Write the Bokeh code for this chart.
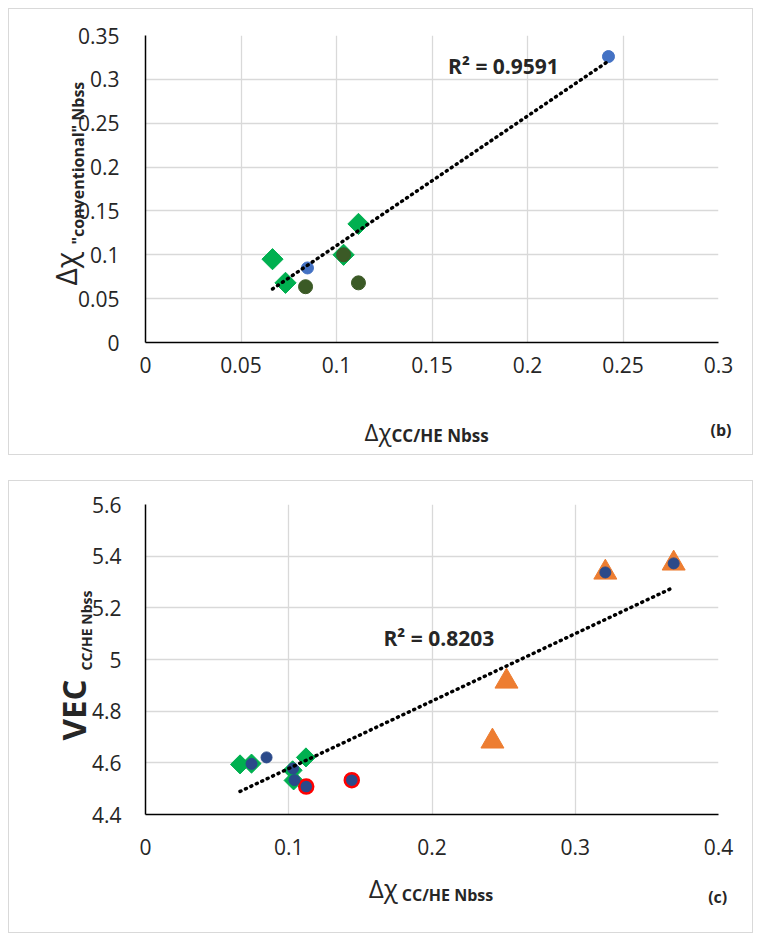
import numpy as np
from bokeh.plotting import figure
from bokeh.models import Range1d, FixedTicker, Label, Spacer
from bokeh.layouts import column
from bokeh.embed import file_html
from bokeh.resources import INLINE

# ---------------- chart (b) data ----------------
b_blue_x = [0.0848, 0.2424]
b_blue_y = [0.085, 0.326]
b_dkgreen_x = [0.0838, 0.1115, 0.1037]
b_dkgreen_y = [0.0636, 0.068, 0.100]
b_diamond_x = [0.0665, 0.0733, 0.1037, 0.1115]
b_diamond_y = [0.095, 0.068, 0.100, 0.1352]
b_trend_x = [0.0665, 0.2424]
b_trend_coef = [1.477, -0.0372]
b_r2 = "R² = 0.9591"
b_xticks = [0.0, 0.05, 0.1, 0.15, 0.2, 0.25, 0.3]
b_xlabels = ["0", "0.05", "0.1", "0.15", "0.2", "0.25", "0.3"]
b_yticks = [0.0, 0.05, 0.1, 0.15, 0.2, 0.25, 0.3, 0.35]
b_ylabels = ["0", "0.05", "0.1", "0.15", "0.2", "0.25", "0.3", "0.35"]

# ---------------- chart (c) data ----------------
c_navy_x = [0.074, 0.0845, 0.103, 0.104, 0.321, 0.3687]
c_navy_y = [4.596, 4.621, 4.578, 4.533, 5.337, 5.372]
c_red_x = [0.1122, 0.144]
c_red_y = [4.508, 4.533]
c_diamond_x = [0.066, 0.074, 0.1027, 0.1034, 0.112]
c_diamond_y = [4.594, 4.597, 4.571, 4.532, 4.621]
c_tri_x = [0.2422, 0.252, 0.321, 0.3687]
c_tri_y = [4.683, 4.915, 5.337, 5.372]
c_trend_x = [0.066, 0.3687]
c_trend_coef = [2.61, 4.317]
c_r2 = "R² = 0.8203"
c_xticks = [0.0, 0.1, 0.2, 0.3, 0.4]
c_xlabels = ["0", "0.1", "0.2", "0.3", "0.4"]
c_yticks = [4.4, 4.6, 4.8, 5.0, 5.2, 5.4, 5.6]
c_ylabels = ["4.4", "4.6", "4.8", "5", "5.2", "5.4", "5.6"]

FONT = "Open Sans"
GRID = "#D9D9D9"
TXT = "#262626"
W = 745


def make_fig(height, left, top, fw, fh, xr, yr, xticks, xlabels, yticks, ylabels,
             xstand, ystand):
    p = figure(width=W, height=height, x_range=Range1d(*xr), y_range=Range1d(*yr),
               output_backend="svg", toolbar_location=None,
               min_border_left=left, min_border_right=W - left - fw,
               min_border_top=top, min_border_bottom=height - top - fh)
    p.outline_line_color = None
    p.background_fill_color = "white"
    p.border_fill_color = "white"
    p.styles = {"border": "1px solid #D9D9D9"}
    for ax, ticks, labels, st in ((p.xaxis, xticks, xlabels, xstand),
                                  (p.yaxis, yticks, ylabels, ystand)):
        ax.ticker = FixedTicker(ticks=ticks)
        ax.major_label_overrides = {float(t): l for t, l in zip(ticks, labels)}
        ax.major_tick_in = 0
        ax.major_tick_out = 0
        ax.minor_tick_line_color = None
        ax.axis_line_color = "#000000"
        ax.axis_line_width = 1.5
        ax.major_label_text_font = FONT
        ax.major_label_text_font_size = "21px"
        ax.major_label_text_color = TXT
        ax.major_label_standoff = st
    p.xgrid.grid_line_color = GRID
    p.ygrid.grid_line_color = GRID
    p.xgrid.grid_line_width = 1.3
    p.ygrid.grid_line_width = 1.3
    return p


def to_data(px, py, fl, ft, fw, fh, xr, yr):
    # position in pixels (relative to the figure) -> data units of the frame scales
    x = xr[0] + (px - fl) / fw * (xr[1] - xr[0])
    y = yr[1] - (py - ft) / fh * (yr[1] - yr[0])
    return x, y


def add_text(p, geo, px, py, text, size, bold=False, angle=0.0, align="left",
             baseline="alphabetic", side=None):
    x, y = to_data(px, py, *geo)
    lab = Label(x=x, y=y, text=text, text_font=FONT,
                text_font_size=f"{size}px",
                text_font_style="bold" if bold else "normal",
                text_color=TXT, angle=angle, text_align=align,
                text_baseline=baseline)
    if side is None:
        p.add_layout(lab)
    else:
        p.add_layout(lab, side)


# page offsets of each figure (the layout gets an 8px margin)
OX, OY1 = 8, 8
OY2 = 482

# ---------------- figure (b) ----------------
b_geo = (136, 26, 573, 307, (0, 0.3), (0, 0.35))
p1 = make_fig(447, 136, 26, 573, 307, (0, 0.3), (0, 0.35),
              b_xticks, b_xlabels, b_yticks, b_ylabels, 14, 26)

p1.scatter(b_diamond_x, b_diamond_y, marker="square", size=15, angle=np.pi / 4,
           fill_color="#00B050", line_color="#00B050")
p1.scatter(b_dkgreen_x, b_dkgreen_y, marker="circle", size=14,
           fill_color="#3B5A26", line_color="#3B5A26")
p1.scatter(b_blue_x, b_blue_y, marker="circle", size=12,
           fill_color="#4472C4", line_color="#4472C4")
bt = np.array(b_trend_x)
p1.line(bt, b_trend_coef[0] * bt + b_trend_coef[1], line_color="black",
        line_width=3.5, line_dash="1 5", line_cap="round")

add_text(p1, b_geo, 502 - OX, 64 - OY1, b_r2, 21, bold=True, align="center",
         baseline="middle")
add_text(p1, b_geo, 363 - OX, 430 - OY1, "Δχ", 24, side="below")
add_text(p1, b_geo, 390 - OX, 434 - OY1, "CC/HE Nbss", 17, bold=True, side="below")
add_text(p1, b_geo, 730 - OX, 428 - OY1, "(b)", 16, bold=True, align="right",
         baseline="middle", side="above")
add_text(p1, b_geo, 64 - OX, 284 - OY1, "Δχ", 30, angle=np.pi / 2, side="left")
add_text(p1, b_geo, 76 - OX, 243 - OY1, "\"conventional\" Nbss", 16, bold=True,
         angle=np.pi / 2, side="right")

# ---------------- figure (c) ----------------
c_geo = (121, 23, 588, 310, (0, 0.4), (4.4, 5.6))
p2 = make_fig(453, 121, 23, 588, 310, (0, 0.4), (4.4, 5.6),
              c_xticks, c_xlabels, c_yticks, c_ylabels, 24, 24)

p2.scatter(c_diamond_x, c_diamond_y, marker="square", size=13.5, angle=np.pi / 4,
           fill_color="#00B050", line_color="#00B050")
p2.scatter(c_red_x, c_red_y, marker="circle", size=14,
           fill_color="#2B4A8A", line_color="#FF0000", line_width=2.5)
p2.scatter(c_tri_x, c_tri_y, marker="triangle", size=23,
           fill_color="#ED7D31", line_color="#ED7D31")
p2.scatter(c_navy_x, c_navy_y, marker="circle", size=11,
           fill_color="#2B4A8A", line_color="#2B4A8A")
ct = np.array(c_trend_x)
p2.line(ct, c_trend_coef[0] * ct + c_trend_coef[1], line_color="black",
        line_width=3.5, line_dash="1 5", line_cap="round")

add_text(p2, c_geo, 430 - OX, 638 - OY2, c_r2, 21, bold=True, align="center",
         baseline="middle")
add_text(p2, c_geo, 358 - OX, 888 - OY2, "Δχ", 26, side="below")
add_text(p2, c_geo, 392 - OX, 895 - OY2, "CC/HE Nbss", 16, bold=True, side="below")
add_text(p2, c_geo, 726 - OX, 897 - OY2, "(c)", 16, bold=True, align="right",
         baseline="middle", side="above")
add_text(p2, c_geo, 55 - OX, 741 - OY2, "VEC", 33, bold=True, angle=np.pi / 2,
         side="left")
add_text(p2, c_geo, 68 - OX, 671 - OY2, "CC/HE Nbss", 14, bold=True,
         angle=np.pi / 2, side="right")

layout = column(p1, Spacer(height=25), p2, margin=(8, 0, 0, 8))
open("out.html", "w").write(file_html(layout, INLINE))
